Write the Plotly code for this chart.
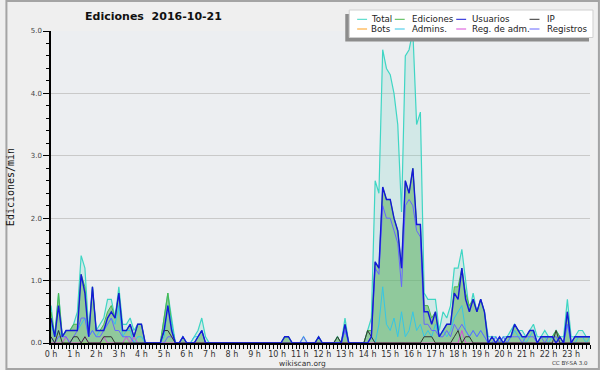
import plotly.graph_objects as go

# ---------------- data (edits/min, 10-minute bins, 2016-10-21) ----------------
n_bins = 144
hours = [i / 6 for i in range(n_bins)]
hour_ticks = list(range(24))
hour_labels = [f"{h} h" for h in hour_ticks]
y_ticks = [0, 1, 2, 3, 4, 5]
y_labels = ["0.0", "1.0", "2.0", "3.0", "4.0", "5.0"]

total = [
    0.6, 0.1, 0.8, 0.1, 0.2, 0.2,   # 0h
    0.3, 0.5, 1.4, 1.2, 0.2, 0.9,   # 1h
    0.2, 0.3, 0.4, 0.7, 0.7, 0.4,   # 2h
    0.9, 0.3, 0.3, 0.4, 0.2, 0.3,   # 3h
    0.3, 0.0, 0.0, 0.0, 0.0, 0.0,   # 4h
    0.4, 0.8, 0.4, 0.0, 0.0, 0.1,   # 5h
    0.0, 0.0, 0.1, 0.2, 0.4, 0.1,   # 6h
    0.0, 0.0, 0.0, 0.0, 0.0, 0.0,   # 7h
    0.0, 0.0, 0.0, 0.0, 0.0, 0.0,   # 8h
    0.0, 0.0, 0.0, 0.0, 0.0, 0.0,   # 9h
    0.0, 0.0, 0.1, 0.1, 0.0, 0.0,   # 10h
    0.0, 0.1, 0.0, 0.0, 0.0, 0.1,   # 11h
    0.0, 0.0, 0.0, 0.0, 0.1, 0.0,   # 12h
    0.4, 0.0, 0.0, 0.0, 0.0, 0.0,   # 13h
    0.2, 0.4, 2.6, 2.4, 4.7, 4.4,   # 14h
    4.3, 4.0, 3.5, 2.1, 4.6, 4.7,   # 15h
    5.0, 3.5, 3.7, 0.8, 0.7, 0.7,   # 16h
    0.7, 0.2, 0.5, 0.4, 0.6, 1.2,   # 17h
    1.2, 1.5, 1.0, 0.5, 0.8, 0.5,   # 18h
    0.7, 0.5, 0.1, 0.1, 0.1, 0.0,   # 19h
    0.1, 0.1, 0.2, 0.3, 0.2, 0.2,   # 20h
    0.1, 0.2, 0.3, 0.1, 0.1, 0.2,   # 21h
    0.1, 0.1, 0.2, 0.1, 0.1, 0.7,   # 22h
    0.1, 0.1, 0.2, 0.2, 0.1, 0.1,   # 23h
]

ediciones = [
    0.5, 0.1, 0.8, 0.1, 0.2, 0.2,
    0.3, 0.3, 1.1, 0.9, 0.1, 0.9,
    0.2, 0.2, 0.3, 0.5, 0.6, 0.4,
    0.8, 0.2, 0.2, 0.3, 0.1, 0.3,
    0.3, 0.0, 0.0, 0.0, 0.0, 0.0,
    0.4, 0.8, 0.3, 0.0, 0.0, 0.1,
    0.0, 0.0, 0.0, 0.1, 0.2, 0.0,
    0.0, 0.0, 0.0, 0.0, 0.0, 0.0,
    0.0, 0.0, 0.0, 0.0, 0.0, 0.0,
    0.0, 0.0, 0.0, 0.0, 0.0, 0.0,
    0.0, 0.0, 0.1, 0.1, 0.0, 0.0,
    0.0, 0.0, 0.0, 0.0, 0.0, 0.1,
    0.0, 0.0, 0.0, 0.0, 0.1, 0.0,
    0.3, 0.0, 0.0, 0.0, 0.0, 0.0,
    0.2, 0.2, 1.3, 1.2, 2.5, 2.3,
    2.3, 2.0, 1.8, 1.2, 2.6, 2.4,
    2.8, 1.9, 1.9, 0.6, 0.6, 0.4,
    0.5, 0.1, 0.2, 0.3, 0.3, 0.9,
    0.9, 1.2, 0.8, 0.6, 0.7, 0.5,
    0.7, 0.5, 0.0, 0.1, 0.0, 0.1,
    0.0, 0.1, 0.1, 0.3, 0.2, 0.1,
    0.1, 0.2, 0.2, 0.0, 0.1, 0.1,
    0.1, 0.1, 0.2, 0.1, 0.0, 0.5,
    0.0, 0.1, 0.1, 0.1, 0.1, 0.1,
]

usuarios = [
    0.4, 0.1, 0.6, 0.1, 0.2, 0.2,
    0.2, 0.2, 1.1, 0.8, 0.1, 0.9,
    0.2, 0.2, 0.2, 0.4, 0.5, 0.4,
    0.8, 0.2, 0.2, 0.3, 0.1, 0.3,
    0.3, 0.0, 0.0, 0.0, 0.0, 0.0,
    0.2, 0.6, 0.2, 0.0, 0.0, 0.1,
    0.0, 0.0, 0.0, 0.1, 0.2, 0.0,
    0.0, 0.0, 0.0, 0.0, 0.0, 0.0,
    0.0, 0.0, 0.0, 0.0, 0.0, 0.0,
    0.0, 0.0, 0.0, 0.0, 0.0, 0.0,
    0.0, 0.0, 0.1, 0.1, 0.0, 0.0,
    0.0, 0.0, 0.0, 0.0, 0.0, 0.1,
    0.0, 0.0, 0.0, 0.0, 0.0, 0.0,
    0.3, 0.0, 0.0, 0.0, 0.0, 0.0,
    0.0, 0.1, 1.3, 1.2, 2.5, 2.3,
    2.3, 2.0, 1.8, 1.2, 2.6, 2.4,
    2.8, 1.9, 1.9, 0.5, 0.5, 0.3,
    0.5, 0.1, 0.2, 0.3, 0.3, 0.8,
    0.7, 1.2, 0.7, 0.5, 0.7, 0.5,
    0.7, 0.5, 0.0, 0.1, 0.0, 0.1,
    0.0, 0.1, 0.1, 0.3, 0.2, 0.1,
    0.1, 0.2, 0.2, 0.0, 0.1, 0.1,
    0.1, 0.1, 0.0, 0.1, 0.0, 0.5,
    0.0, 0.1, 0.1, 0.1, 0.1, 0.1,
]

ip = [
    0.1, 0.0, 0.2, 0.0, 0.0, 0.0,
    0.1, 0.1, 0.0, 0.1, 0.0, 0.0,
    0.0, 0.0, 0.1, 0.1, 0.1, 0.0,
    0.0, 0.0, 0.0, 0.0, 0.0, 0.0,
    0.0, 0.0, 0.0, 0.0, 0.0, 0.0,
    0.2, 0.2, 0.1, 0.0, 0.0, 0.0,
    0.0, 0.0, 0.0, 0.0, 0.0, 0.0,
    0.0, 0.0, 0.0, 0.0, 0.0, 0.0,
    0.0, 0.0, 0.0, 0.0, 0.0, 0.0,
    0.0, 0.0, 0.0, 0.0, 0.0, 0.0,
    0.0, 0.0, 0.0, 0.0, 0.0, 0.0,
    0.0, 0.0, 0.0, 0.0, 0.0, 0.0,
    0.0, 0.0, 0.0, 0.0, 0.1, 0.0,
    0.0, 0.0, 0.0, 0.0, 0.0, 0.0,
    0.2, 0.1, 0.0, 0.0, 0.0, 0.0,
    0.0, 0.0, 0.0, 0.0, 0.0, 0.0,
    0.0, 0.0, 0.0, 0.1, 0.1, 0.1,
    0.0, 0.0, 0.0, 0.0, 0.0, 0.1,
    0.2, 0.0, 0.1, 0.1, 0.0, 0.0,
    0.0, 0.0, 0.0, 0.0, 0.0, 0.0,
    0.0, 0.0, 0.0, 0.0, 0.0, 0.0,
    0.0, 0.0, 0.0, 0.0, 0.0, 0.0,
    0.0, 0.0, 0.2, 0.0, 0.0, 0.0,
    0.0, 0.0, 0.0, 0.0, 0.0, 0.0,
]

bots = [0.0] * n_bins

admins = [
    0.3, 0.1, 0.2, 0.1, 0.2, 0.2,
    0.2, 0.2, 0.3, 0.4, 0.1, 0.2,
    0.1, 0.2, 0.2, 0.3, 0.4, 0.3,
    0.6, 0.1, 0.2, 0.2, 0.0, 0.1,
    0.1, 0.0, 0.0, 0.0, 0.0, 0.0,
    0.1, 0.6, 0.3, 0.0, 0.0, 0.0,
    0.0, 0.0, 0.1, 0.1, 0.2, 0.0,
    0.0, 0.0, 0.0, 0.0, 0.0, 0.0,
    0.0, 0.0, 0.0, 0.0, 0.0, 0.0,
    0.0, 0.0, 0.0, 0.0, 0.0, 0.0,
    0.0, 0.0, 0.0, 0.0, 0.0, 0.0,
    0.0, 0.0, 0.0, 0.0, 0.0, 0.0,
    0.0, 0.0, 0.0, 0.0, 0.0, 0.0,
    0.2, 0.0, 0.0, 0.0, 0.0, 0.0,
    0.0, 0.1, 0.0, 0.3, 0.9, 0.3,
    0.2, 0.4, 0.1, 0.5, 0.1, 0.2,
    0.5, 0.2, 0.3, 0.1, 0.2, 0.1,
    0.3, 0.1, 0.2, 0.1, 0.2, 0.4,
    0.5, 0.6, 0.2, 0.1, 0.2, 0.1,
    0.2, 0.1, 0.0, 0.0, 0.1, 0.0,
    0.1, 0.0, 0.1, 0.2, 0.1, 0.1,
    0.0, 0.1, 0.2, 0.0, 0.1, 0.1,
    0.0, 0.1, 0.1, 0.0, 0.0, 0.3,
    0.0, 0.0, 0.1, 0.1, 0.0, 0.1,
]

reg_adm = [
    0.0, 0.0, 0.0, 0.0, 0.1, 0.0,
    0.0, 0.0, 0.0, 0.1, 0.0, 0.0,
    0.0, 0.0, 0.1, 0.0, 0.0, 0.0,
    0.0, 0.0, 0.1, 0.0, 0.1, 0.0,
    0.0, 0.0, 0.0, 0.0, 0.0, 0.0,
    0.0, 0.0, 0.0, 0.0, 0.0, 0.0,
    0.0, 0.0, 0.0, 0.0, 0.0, 0.0,
    0.0, 0.0, 0.0, 0.0, 0.0, 0.0,
    0.0, 0.0, 0.0, 0.0, 0.0, 0.0,
    0.0, 0.0, 0.0, 0.0, 0.0, 0.0,
    0.0, 0.0, 0.0, 0.0, 0.0, 0.0,
    0.0, 0.0, 0.0, 0.0, 0.0, 0.0,
    0.0, 0.0, 0.0, 0.0, 0.0, 0.0,
    0.0, 0.0, 0.0, 0.0, 0.0, 0.0,
    0.0, 0.0, 0.0, 0.0, 0.0, 0.0,
    0.0, 0.0, 0.0, 0.0, 0.0, 0.0,
    0.0, 0.0, 0.0, 0.0, 0.0, 0.0,
    0.0, 0.0, 0.0, 0.0, 0.0, 0.0,
    0.0, 0.2, 0.0, 0.0, 0.0, 0.0,
    0.0, 0.0, 0.0, 0.0, 0.0, 0.0,
    0.0, 0.0, 0.0, 0.0, 0.0, 0.0,
    0.0, 0.0, 0.0, 0.0, 0.0, 0.0,
    0.0, 0.0, 0.0, 0.0, 0.0, 0.0,
    0.0, 0.0, 0.0, 0.0, 0.0, 0.0,
]

registros = [
    0.1, 0.0, 0.1, 0.1, 0.1, 0.0,
    0.1, 0.2, 0.4, 0.4, 0.1, 0.2,
    0.1, 0.1, 0.2, 0.3, 0.4, 0.2,
    0.2, 0.1, 0.1, 0.1, 0.0, 0.0,
    0.0, 0.0, 0.0, 0.0, 0.0, 0.0,
    0.0, 0.1, 0.1, 0.0, 0.0, 0.1,
    0.0, 0.0, 0.0, 0.1, 0.2, 0.0,
    0.0, 0.0, 0.0, 0.0, 0.0, 0.0,
    0.0, 0.0, 0.0, 0.0, 0.0, 0.0,
    0.0, 0.0, 0.0, 0.0, 0.0, 0.0,
    0.0, 0.0, 0.0, 0.0, 0.0, 0.0,
    0.0, 0.1, 0.0, 0.0, 0.0, 0.0,
    0.0, 0.0, 0.0, 0.0, 0.0, 0.0,
    0.2, 0.0, 0.0, 0.0, 0.0, 0.0,
    0.0, 0.1, 1.2, 1.1, 2.2, 2.0,
    2.0, 1.8, 1.6, 0.9, 2.2, 2.3,
    2.2, 1.8, 1.7, 0.3, 0.3, 0.2,
    0.2, 0.1, 0.1, 0.2, 0.1, 0.3,
    0.2, 0.3, 0.2, 0.1, 0.2, 0.1,
    0.2, 0.1, 0.0, 0.0, 0.1, 0.0,
    0.1, 0.0, 0.1, 0.1, 0.1, 0.0,
    0.1, 0.1, 0.1, 0.0, 0.1, 0.0,
    0.1, 0.1, 0.1, 0.0, 0.0, 0.3,
    0.0, 0.1, 0.1, 0.1, 0.1, 0.1,
]

# ---------------- layout geometry (pixels) ----------------
W, H = 600, 370
ML, MR, MT, MB = 46, 10, 31, 27
PW, PH = W - ML - MR, H - MT - MB


def px(x):
    return (x - ML) / PW


def py(y):
    return (H - MB - y) / PH


FONT = "DejaVu Sans"
C_TOTAL = "#3fd6c4"
C_EDIC = "#4cb84c"
C_USU = "#1418d8"
C_IP = "#333333"
C_BOTS = "#ff9f1a"
C_ADM = "#35c6e6"
C_REGADM = "#d84cd8"
C_REG = "#6666ff"

fig = go.Figure()


def line(y, color, name, width=1.0, fill=None, fillcolor=None):
    fig.add_trace(go.Scatter(
        x=hours, y=y, name=name, mode="lines",
        line=dict(color=color, width=width, shape="linear"),
        fill=fill, fillcolor=fillcolor, showlegend=False,
        hoverinfo="x+y+name",
    ))


line(bots, C_BOTS, "Bots")
line(total, C_TOTAL, "Total", 1.2, "tozeroy", "rgba(120,215,195,0.22)")
line(ediciones, C_EDIC, "Ediciones", 1.0, "tozeroy", "rgba(90,175,95,0.55)")
line(admins, C_ADM, "Admins.", 1.0)
line(reg_adm, C_REGADM, "Reg. de adm.", 1.0)
line(registros, C_REG, "Registros", 1.0)
line(ip, C_IP, "IP", 1.0)
line(usuarios, C_USU, "Usuarios", 1.4)

# ---------------- legend (drawn manually to match compact layout) ----------------
shapes = []
annotations = []
# outer frame of the image
shapes.append(dict(type="rect", xref="paper", yref="paper",
                   x0=px(1), x1=px(W - 1), y0=py(H - 1), y1=py(1),
                   line=dict(color="#a4a4a4", width=2), layer="above"))
# legend shadow + box
shapes.append(dict(type="rect", xref="paper", yref="paper",
                   x0=px(343), x1=px(589), y0=py(41.5), y1=py(14),
                   fillcolor="#8c8c8c", line=dict(width=0), layer="above"))
shapes.append(dict(type="rect", xref="paper", yref="paper",
                   x0=px(347), x1=px(593), y0=py(37.5), y1=py(10),
                   fillcolor="#ffffff", line=dict(color="#d0d0d0", width=1), layer="above"))

legend_items = [
    ("Total", C_TOTAL, 355, 367, 19.3),
    ("Ediciones", C_EDIC, 393, 408, 19.3),
    ("Usuarios", C_USU, 455, 469, 19.3),
    ("IP", C_IP, 529, 545, 19.3),
    ("Bots", C_BOTS, 355, 367, 29.0),
    ("Admins.", C_ADM, 393, 408, 29.0),
    ("Reg. de adm.", C_REGADM, 455, 469, 29.0),
    ("Registros", C_REG, 529, 545, 29.0),
]
for name, color, lx, tx, ly in legend_items:
    shapes.append(dict(type="line", xref="paper", yref="paper",
                       x0=px(lx), x1=px(lx + 10), y0=py(ly), y1=py(ly),
                       line=dict(color=color, width=1), layer="above"))
    annotations.append(dict(text=name, xref="paper", yref="paper",
                            x=px(tx), y=py(ly), xanchor="left", yanchor="middle",
                            showarrow=False,
                            font=dict(family=FONT, size=8.7, color="#222222")))

# footer texts
annotations.append(dict(text="wikiscan.org", xref="paper", yref="paper",
                        x=px(300), y=py(363), xanchor="center", yanchor="middle",
                        showarrow=False, font=dict(family=FONT, size=7.5, color="#333333")))
annotations.append(dict(text="CC BY-SA 3.0", xref="paper", yref="paper",
                        x=px(590), y=py(363), xanchor="right", yanchor="middle",
                        showarrow=False, font=dict(family=FONT, size=5.5, color="#333333")))

fig.update_layout(
    width=W, height=H,
    margin=dict(l=ML, r=MR, t=MT, b=MB, pad=0),
    paper_bgcolor="#efefef",
    plot_bgcolor="#eceef1",
    showlegend=False,
    title=dict(text="<b>Ediciones  2016-10-21</b>", xref="container", yref="container",
               x=153.5 / W, xanchor="center", y=1 - 16.5 / H, yanchor="middle",
               font=dict(family=FONT, size=11, color="#111111")),
    shapes=shapes,
    annotations=annotations,
    xaxis=dict(
        range=[0, hours[-1]],
        tickmode="array", tickvals=hour_ticks, ticktext=hour_labels,
        ticks="outside", ticklen=4, tickwidth=1, tickcolor="#000000",
        ticklabelstandoff=-2,
        minor=dict(tick0=0, dtick=1 / 6, ticks="outside", ticklen=4,
                   tickwidth=1, tickcolor="#000000", showgrid=False),
        showline=True, linecolor="#000000", linewidth=2,
        showgrid=False, zeroline=False,
        tickfont=dict(family=FONT, size=8, color="#333333"),
        fixedrange=True,
    ),
    yaxis=dict(
        range=[0, 5],
        tickmode="array", tickvals=y_ticks, ticktext=y_labels,
        ticks="outside", ticklen=6, tickwidth=1, tickcolor="#000000",
        minor=dict(tick0=0, dtick=0.2, ticks="outside", ticklen=3,
                   tickwidth=1, tickcolor="#000000", showgrid=False),
        showline=True, linecolor="#000000", linewidth=1.5,
        showgrid=True, gridcolor="#c9c9c9", gridwidth=1,
        zeroline=False,
        tickfont=dict(family=FONT, size=7, color="#444444"),
        title=dict(text="Ediciones/min", standoff=14,
                   font=dict(family="DejaVu Sans Mono", size=10, color="#111111")),
        fixedrange=True,
    ),
)

fig.write_html(
    "out.html",
    config={"displayModeBar": False},
    post_script="document.body.style.margin='0';document.body.style.padding='0';"
                "document.body.style.overflow='hidden';",
)
